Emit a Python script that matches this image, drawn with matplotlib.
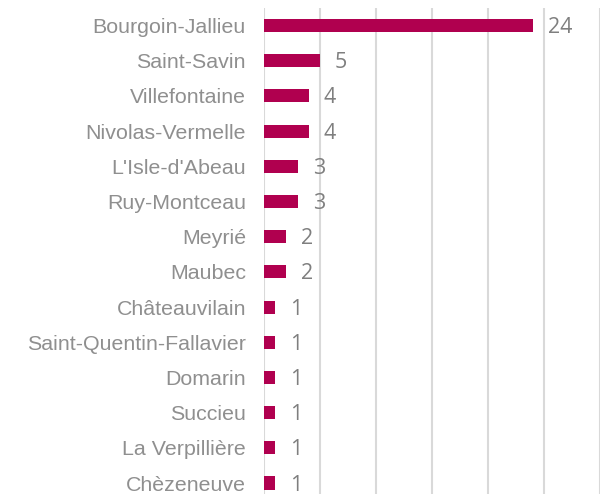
import matplotlib
matplotlib.use("Agg")
import matplotlib.pyplot as plt

communes = ["Bourgoin-Jallieu", "Saint-Savin", "Villefontaine", "Nivolas-Vermelle",
            "L'Isle-d'Abeau", "Ruy-Montceau", "Meyrié", "Maubec", "Châteauvilain",
            "Saint-Quentin-Fallavier", "Domarin", "Succieu", "La Verpillière", "Chèzeneuve"]
values = [24, 5, 4, 4, 3, 3, 2, 2, 1, 1, 1, 1, 1, 1]

fig = plt.figure(figsize=(6, 4.94), dpi=100)
ax = fig.add_axes([0.44, 1 - 500.6 / 494, 0.56, (500.6 - 8) / 494])

y = list(range(len(communes)))
ax.barh(y, values, height=0.37, color="#B0004F", zorder=3)
ax.set_yticks(y)
ax.set_yticklabels(communes, fontsize=15.4, color="#8F8F8F", family="Liberation Sans")
ax.set_ylim(len(communes) - 0.5, -0.5)
ax.set_xlim(0, 30)
ax.set_xticks(range(0, 31, 5))
ax.xaxis.grid(True, color="#D9D9D9", linewidth=1.5, zorder=0)
ax.tick_params(axis="x", which="both", length=0, labelbottom=False)
ax.tick_params(axis="y", length=0, pad=13)
for s in ax.spines.values():
    s.set_visible(False)

for yi, v in zip(y, values):
    ax.annotate(str(v), xy=(v, yi), xytext=(15, -2), textcoords="offset pixels",
                va="center", ha="left", fontsize=15.5, color="#7F7F7F", family="Open Sans")

fig.savefig("out.png", dpi=100)
